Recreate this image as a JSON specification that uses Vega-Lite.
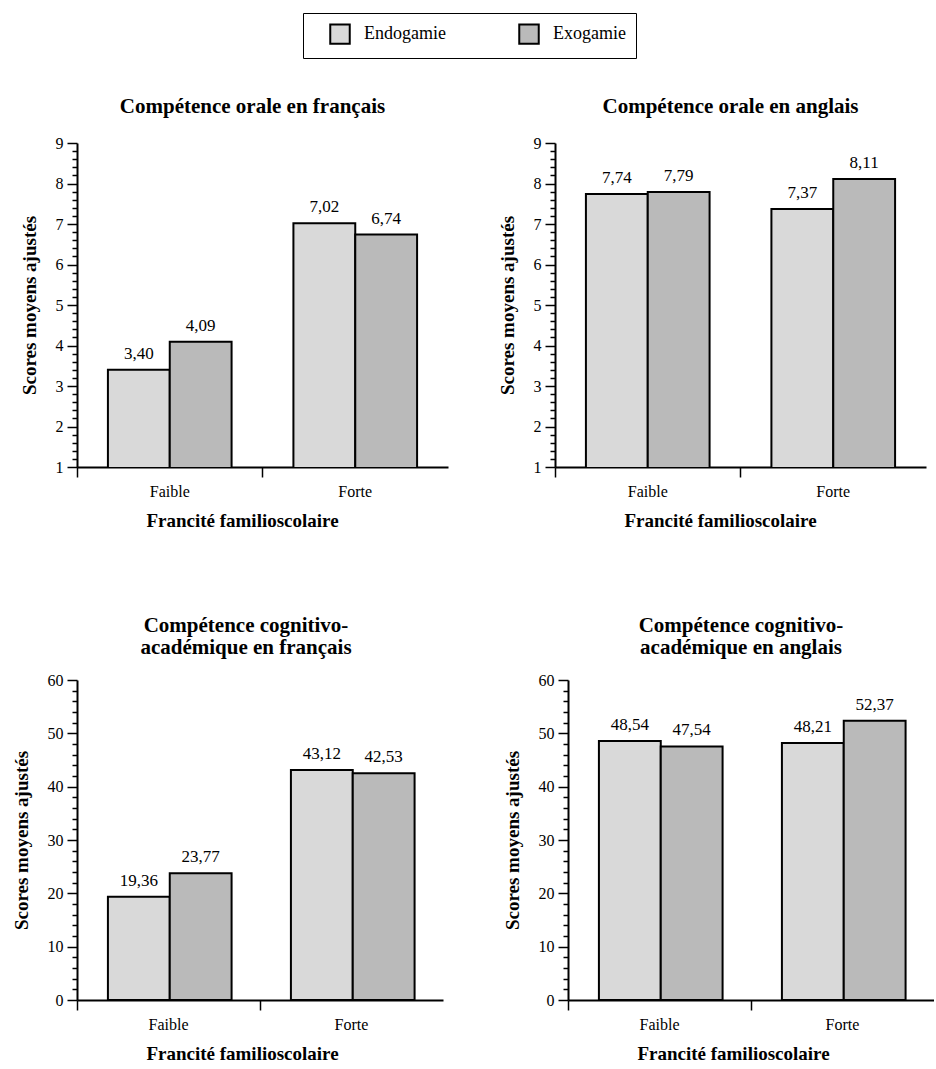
{
  "$schema": "https://vega.github.io/schema/vega-lite/v6.json",
  "padding": {"left": 12, "top": 12, "right": 0, "bottom": 0},
  "background": "white",
  "datasets": {
    "scores": [
      {"panel": "P1", "francite": "Faible", "groupe": "Endogamie", "score": 3.40},
      {"panel": "P1", "francite": "Faible", "groupe": "Exogamie", "score": 4.09},
      {"panel": "P1", "francite": "Forte", "groupe": "Endogamie", "score": 7.02},
      {"panel": "P1", "francite": "Forte", "groupe": "Exogamie", "score": 6.74},
      {"panel": "P2", "francite": "Faible", "groupe": "Endogamie", "score": 7.74},
      {"panel": "P2", "francite": "Faible", "groupe": "Exogamie", "score": 7.79},
      {"panel": "P2", "francite": "Forte", "groupe": "Endogamie", "score": 7.37},
      {"panel": "P2", "francite": "Forte", "groupe": "Exogamie", "score": 8.11},
      {"panel": "P3", "francite": "Faible", "groupe": "Endogamie", "score": 19.36},
      {"panel": "P3", "francite": "Faible", "groupe": "Exogamie", "score": 23.77},
      {"panel": "P3", "francite": "Forte", "groupe": "Endogamie", "score": 43.12},
      {"panel": "P3", "francite": "Forte", "groupe": "Exogamie", "score": 42.53},
      {"panel": "P4", "francite": "Faible", "groupe": "Endogamie", "score": 48.54},
      {"panel": "P4", "francite": "Faible", "groupe": "Exogamie", "score": 47.54},
      {"panel": "P4", "francite": "Forte", "groupe": "Endogamie", "score": 48.21},
      {"panel": "P4", "francite": "Forte", "groupe": "Exogamie", "score": 52.37}
    ]
  },
  "data": {"name": "scores"},
  "config": {
    "locale": {"number": {"decimal": ",", "thousands": " ", "grouping": [3], "currency": ["", " €"]}},
    "view": {"stroke": null},
    "font": "Liberation Serif",
    "title": {"font": "Liberation Serif", "fontSize": 21, "fontWeight": "bold", "color": "black", "offset": 18, "frame": "group", "dx": -10, "lineHeight": 22},
    "axis": {"labelFont": "Liberation Serif", "labelFontSize": 16, "labelColor": "black", "titleFont": "Liberation Serif", "titleFontSize": 19, "titleFontWeight": "bold", "titleColor": "black", "domainColor": "black", "domainWidth": 2, "tickColor": "black", "tickWidth": 1.5, "grid": false},
    "axisY": {"labelPadding": 4, "titlePadding": 16, "labelOverlap": false, "format": ".0f"},
    "axisX": {"labelAngle": 0, "tickSize": 10, "labelPadding": 6, "titlePadding": 12, "bandPosition": 0, "titleX": 165},
    "legend": {"orient": "none", "legendX": 226, "legendY": -130, "direction": "horizontal", "symbolType": "square", "symbolSize": 380, "symbolStrokeColor": "black", "symbolStrokeWidth": 2, "labelFont": "Liberation Serif", "labelFontSize": 18, "labelColor": "black", "strokeColor": "black", "padding": 10, "columnPadding": 56, "labelOffset": 13, "symbolOffset": 16, "fillColor": "white"}
  },
  "vconcat": [
    {
      "hconcat": [
        {
          "width": 371, "height": 324,
          "title": {"text": "Compétence orale en français"},
          "transform": [{"filter": "datum.panel === 'P1'"}],
          "encoding": {
            "x": {"field": "francite", "type": "nominal", "sort": ["Faible", "Forte"], "scale": {"paddingInner": 0, "paddingOuter": 0}, "title": "Francité familioscolaire"},
            "xOffset": {"field": "groupe", "type": "nominal", "sort": ["Endogamie", "Exogamie"], "scale": {"paddingInner": 0, "paddingOuter": 0.5}},
            "y": {"field": "score", "type": "quantitative", "scale": {"domain": [1, 9], "zero": false, "nice": false}, "title": "Scores moyens ajustés",
              "axis": {"values": [1,1.2,1.4,1.6,1.8,2,2.2,2.4,2.6,2.8,3,3.2,3.4,3.6,3.8,4,4.2,4.4,4.6,4.8,5,5.2,5.4,5.6,5.8,6,6.2,6.4,6.6,6.8,7,7.2,7.4,7.6,7.8,8,8.2,8.4,8.6,8.8,9],
                "labelExpr": "datum.value % 1 === 0 ? datum.label : ''",
                "tickSize": {"condition": {"test": "datum.value % 1 === 0", "value": 10}, "value": 5}}}
          },
          "layer": [
            {"mark": {"type": "bar", "stroke": "black", "strokeWidth": 2, "clip": true},
             "encoding": {"color": {"field": "groupe", "type": "nominal", "title": null, "scale": {"domain": ["Endogamie", "Exogamie"], "range": ["#d9d9d9", "#bababa"]}}}},
            {"mark": {"type": "text", "dy": -7, "baseline": "bottom", "font": "Liberation Serif", "fontSize": 17, "color": "black"},
             "encoding": {"text": {"field": "score", "type": "quantitative", "format": ".2f"}}}
          ]
        },
        {
          "width": 371, "height": 324,
          "title": {"text": "Compétence orale en anglais"},
          "transform": [{"filter": "datum.panel === 'P2'"}],
          "encoding": {
            "x": {"field": "francite", "type": "nominal", "sort": ["Faible", "Forte"], "scale": {"paddingInner": 0, "paddingOuter": 0}, "title": "Francité familioscolaire"},
            "xOffset": {"field": "groupe", "type": "nominal", "sort": ["Endogamie", "Exogamie"], "scale": {"paddingInner": 0, "paddingOuter": 0.5}},
            "y": {"field": "score", "type": "quantitative", "scale": {"domain": [1, 9], "zero": false, "nice": false}, "title": "Scores moyens ajustés",
              "axis": {"values": [1,1.2,1.4,1.6,1.8,2,2.2,2.4,2.6,2.8,3,3.2,3.4,3.6,3.8,4,4.2,4.4,4.6,4.8,5,5.2,5.4,5.6,5.8,6,6.2,6.4,6.6,6.8,7,7.2,7.4,7.6,7.8,8,8.2,8.4,8.6,8.8,9],
                "labelExpr": "datum.value % 1 === 0 ? datum.label : ''",
                "tickSize": {"condition": {"test": "datum.value % 1 === 0", "value": 10}, "value": 5}}}
          },
          "layer": [
            {"mark": {"type": "bar", "stroke": "black", "strokeWidth": 2, "clip": true},
             "encoding": {"color": {"field": "groupe", "type": "nominal", "title": null, "scale": {"domain": ["Endogamie", "Exogamie"], "range": ["#d9d9d9", "#bababa"]}}}},
            {"mark": {"type": "text", "dy": -7, "baseline": "bottom", "font": "Liberation Serif", "fontSize": 17, "color": "black"},
             "encoding": {"text": {"field": "score", "type": "quantitative", "format": ".2f"}}}
          ]
        }
      ],
      "spacing": 50
    },
    {
      "hconcat": [
        {
          "width": 366, "height": 320,
          "title": {"text": ["Compétence cognitivo-", "académique en français"], "dx": -14, "offset": 14},
          "transform": [{"filter": "datum.panel === 'P3'"}],
          "encoding": {
            "x": {"field": "francite", "type": "nominal", "sort": ["Faible", "Forte"], "scale": {"paddingInner": 0, "paddingOuter": 0}, "title": "Francité familioscolaire"},
            "xOffset": {"field": "groupe", "type": "nominal", "sort": ["Endogamie", "Exogamie"], "scale": {"paddingInner": 0, "paddingOuter": 0.5}},
            "y": {"field": "score", "type": "quantitative", "scale": {"domain": [0, 60], "nice": false}, "title": "Scores moyens ajustés",
              "axis": {"values": [0,2,4,6,8,10,12,14,16,18,20,22,24,26,28,30,32,34,36,38,40,42,44,46,48,50,52,54,56,58,60],
                "labelExpr": "datum.value % 10 === 0 ? datum.label : ''",
                "tickSize": {"condition": {"test": "datum.value % 10 === 0", "value": 10}, "value": 5}}}
          },
          "layer": [
            {"mark": {"type": "bar", "stroke": "black", "strokeWidth": 2, "clip": true},
             "encoding": {"color": {"field": "groupe", "type": "nominal", "title": null, "scale": {"domain": ["Endogamie", "Exogamie"], "range": ["#d9d9d9", "#bababa"]}}}},
            {"mark": {"type": "text", "dy": -7, "baseline": "bottom", "font": "Liberation Serif", "fontSize": 17, "color": "black"},
             "encoding": {"text": {"field": "score", "type": "quantitative", "format": ".2f"}}}
          ]
        },
        {
          "width": 366, "height": 320,
          "title": {"text": ["Compétence cognitivo-", "académique en anglais"], "dx": -10, "offset": 14},
          "transform": [{"filter": "datum.panel === 'P4'"}],
          "encoding": {
            "x": {"field": "francite", "type": "nominal", "sort": ["Faible", "Forte"], "scale": {"paddingInner": 0, "paddingOuter": 0}, "title": "Francité familioscolaire"},
            "xOffset": {"field": "groupe", "type": "nominal", "sort": ["Endogamie", "Exogamie"], "scale": {"paddingInner": 0, "paddingOuter": 0.5}},
            "y": {"field": "score", "type": "quantitative", "scale": {"domain": [0, 60], "nice": false}, "title": "Scores moyens ajustés",
              "axis": {"values": [0,2,4,6,8,10,12,14,16,18,20,22,24,26,28,30,32,34,36,38,40,42,44,46,48,50,52,54,56,58,60],
                "labelExpr": "datum.value % 10 === 0 ? datum.label : ''",
                "tickSize": {"condition": {"test": "datum.value % 10 === 0", "value": 10}, "value": 5}}}
          },
          "layer": [
            {"mark": {"type": "bar", "stroke": "black", "strokeWidth": 2, "clip": true},
             "encoding": {"color": {"field": "groupe", "type": "nominal", "title": null, "scale": {"domain": ["Endogamie", "Exogamie"], "range": ["#d9d9d9", "#bababa"]}}}},
            {"mark": {"type": "text", "dy": -7, "baseline": "bottom", "font": "Liberation Serif", "fontSize": 17, "color": "black"},
             "encoding": {"text": {"field": "score", "type": "quantitative", "format": ".2f"}}}
          ]
        }
      ],
      "spacing": 60
    }
  ],
  "spacing": 85
}
